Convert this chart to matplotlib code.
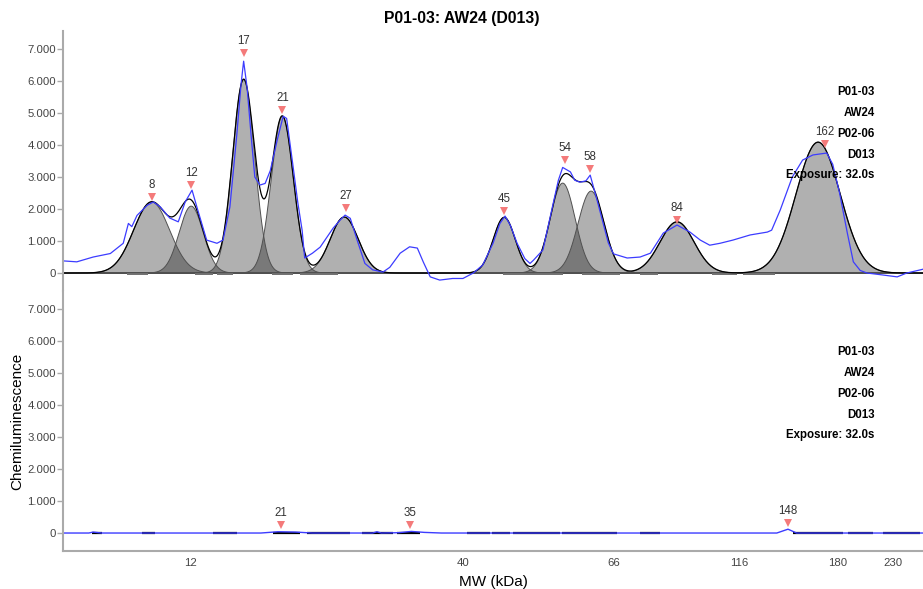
import numpy as np
import matplotlib.pyplot as plt
from matplotlib.ticker import FuncFormatter

plt.rcParams['font.family'] = ['Liberation Sans', 'DejaVu Sans']

# MW ladder: relative migration (lane fraction) of the marker bands
ladder_mw = [12, 40, 66, 116, 180, 230]
ladder_rf = [0.148, 0.465, 0.640, 0.786, 0.901, 0.965]

# raw lane profile, upper lane (rf, signal)
trace_rf = [0.000, 0.016, 0.035, 0.055, 0.070, 0.076, 0.080, 0.086, 0.098, 0.105,
            0.113, 0.124, 0.134, 0.142, 0.150, 0.156, 0.167, 0.179, 0.186, 0.194,
            0.202, 0.207, 0.210, 0.214, 0.219, 0.223, 0.229, 0.235, 0.241, 0.249,
            0.256, 0.260, 0.267, 0.273, 0.278, 0.281, 0.290, 0.299, 0.314, 0.322,
            0.328, 0.334, 0.342, 0.351, 0.360, 0.372, 0.380, 0.392, 0.403, 0.412,
            0.419, 0.427, 0.438, 0.453, 0.465, 0.477, 0.488, 0.500, 0.508, 0.514,
            0.520, 0.528, 0.537, 0.543, 0.547, 0.558, 0.570, 0.576, 0.581, 0.590,
            0.595, 0.601, 0.608, 0.613, 0.621, 0.628, 0.634, 0.640, 0.656, 0.671,
            0.683, 0.698, 0.714, 0.729, 0.741, 0.752, 0.764, 0.779, 0.799, 0.819,
            0.824, 0.834, 0.848, 0.860, 0.872, 0.880, 0.888, 0.895, 0.903, 0.912,
            0.919, 0.927, 0.935, 0.953, 0.970, 0.981, 0.997, 1.000]
trace_val = [380, 350, 500, 610, 930, 1550, 1450, 1800, 2120, 2220,
             2070, 1720, 1600, 2220, 2590, 2030, 1030, 930, 1030, 2060,
             4300, 5900, 6620, 5800, 4200, 3000, 2750, 2800, 3200, 4150,
             4900, 4830, 3430, 2200, 1340, 470, 620, 810, 1400, 1650,
             1810, 1710, 1030, 300, 100, 30, 180, 620, 820, 780,
             340, -120, -220, -170, -170, 0, 250, 930, 1550, 1780,
             1500, 930, 450, 300, 400, 720, 2180, 2900, 3300, 3160,
             2900, 2840, 2880, 3060, 2280, 1560, 950, 600, 470, 500,
             620, 1250, 1500, 1280, 1030, 870, 930, 1030, 1190, 1280,
             1340, 1970, 3000, 3530, 3690, 3720, 3750, 3400, 2500, 1250,
             350, 80, 0, -60, -120, 0, 100, 120]

# fitted bands, upper lane
band_rf = [0.103, 0.149, 0.210, 0.255, 0.327, 0.513, 0.581, 0.614, 0.714, 0.878]
band_height = [2220, 2090, 6050, 4900, 1750, 1740, 2810, 2560, 1600, 4090]
band_sigma = [0.0209, 0.0140, 0.0128, 0.0128, 0.0163, 0.0128, 0.0145, 0.0151, 0.0198, 0.0256]

# band labels (MW) and marker heights
peak_labels = ['8', '12', '17', '21', '27', '45', '54', '58', '84', '162']
peak_rf = [0.103, 0.149, 0.210, 0.255, 0.329, 0.513, 0.584, 0.613, 0.714, 0.886]
peak_mark = [2375, 2750, 6875, 5090, 2030, 1940, 3530, 3250, 1660, 4030]

# baseline segments under bands, upper lane
base_segs = [(0.074, 0.099), (0.153, 0.174), (0.179, 0.198), (0.243, 0.267),
             (0.276, 0.320), (0.512, 0.547), (0.547, 0.581), (0.603, 0.648),
             (0.671, 0.692), (0.755, 0.784), (0.791, 0.828)]

# lower lane
trace2_rf = [0.0, 0.030, 0.035, 0.045, 0.230, 0.250, 0.270, 0.290, 0.360, 0.365,
             0.370, 0.390, 0.405, 0.420, 0.440, 0.830, 0.843, 0.853, 1.0]
trace2_val = [0, 0, 30, 0, 0, 40, 30, 0, 0, 40,
              0, 10, 50, 20, 0, 0, 120, 0, 0]
peak2_labels = ['21', '35', '148']
peak2_rf = [0.253, 0.403, 0.843]
peak2_mark = [250, 250, 310]
base2_segs = [(0.034, 0.045), (0.092, 0.107), (0.174, 0.202), (0.244, 0.276),
              (0.284, 0.334), (0.348, 0.384), (0.388, 0.415), (0.470, 0.497),
              (0.499, 0.520), (0.523, 0.578), (0.580, 0.644), (0.671, 0.694),
              (0.849, 0.907), (0.913, 0.942), (0.953, 0.997)]

info_lines = ['P01-03', 'AW24', 'P02-06', 'D013', 'Exposure: 32.0s']

fig = plt.figure(figsize=(9.23, 5.89), dpi=100)
ax1 = fig.add_axes([0.0683, 0.5059, 0.9317, 0.4414])
ax2 = fig.add_axes([0.0683, 0.0645, 0.9317, 0.4414])

x = np.linspace(0, 1, 1500)
total = np.zeros_like(x)
for c, h, s in zip(band_rf, band_height, band_sigma):
    g = h * np.exp(-0.5 * ((x - c) / s) ** 2)
    total += g
    ax1.fill_between(x, 0, g, facecolor='black', alpha=0.31, linewidth=0)
    ax1.plot(x, g, color='#505050', lw=0.7)

for a, b in base_segs:
    ax1.plot([a, b], [-25, -25], color='#707070', lw=1.4, solid_capstyle='butt')

ax1.plot(x, total, color='black', lw=0.9)
ax1.plot(trace_rf, trace_val, color='#3c3cff', lw=0.9)

for a, b in base2_segs:
    ax2.plot([a, b], [0, 0], color='black', lw=1.6, solid_capstyle='butt')
ax2.plot(trace2_rf, trace2_val, color='#3c3cff', lw=1.0)


def mark_peaks(ax, rf, mark, labels):
    ax.plot(rf, mark, linestyle='none', marker='v', color='#f47a7a', markersize=5.5,
            markeredgewidth=0)
    for px, py, t in zip(rf, mark, labels):
        ax.annotate(t, (px, py), xytext=(0, 8.5), textcoords='offset points',
                    ha='center', va='center', fontsize=8.3, color='#333333')


mark_peaks(ax1, peak_rf, peak_mark, peak_labels)
mark_peaks(ax2, peak2_rf, peak2_mark, peak2_labels)

fmt = FuncFormatter(lambda v, p: f"{int(round(v)):,}".replace(',', '.'))
for ax in (ax1, ax2):
    ax.set_xlim(0, 1)
    ax.set_ylim(-562, 7562)
    ax.set_yticks(np.arange(0, 7001, 1000))
    ax.yaxis.set_major_formatter(fmt)
    ax.tick_params(axis='y', length=4, width=1, color='#aaaaaa', labelsize=8.2,
                   labelcolor='#444444', pad=1)
    for s in ('top', 'right'):
        ax.spines[s].set_visible(False)
    ax.spines['left'].set_color('#aaaaaa')
    ax.spines['left'].set_linewidth(1.5)
    for i, t in enumerate(info_lines):
        ax.text(0.944, 0.765 - i * 0.08, t, transform=ax.transAxes, ha='right',
                va='center', fontsize=8.3, fontweight='bold')

ax1.spines['bottom'].set_visible(False)
ax1.set_xticks([])
ax2.spines['bottom'].set_color('#aaaaaa')
ax2.spines['bottom'].set_linewidth(1.5)
ax2.set_xticks(ladder_rf)
ax2.set_xticklabels([str(m) for m in ladder_mw])
ax2.tick_params(axis='x', length=0, labelsize=8.2, labelcolor='#444444', pad=5)
ax2.set_xlabel('MW (kDa)', fontsize=11)
ax2.xaxis.set_label_coords(0.5, -0.092)
ax2.set_ylabel('Chemiluminescence', fontsize=11)
ax2.yaxis.set_label_coords(-0.045, 0.5)

fig.text(0.5, 0.969, 'P01-03: AW24 (D013)', ha='center', va='center',
         fontsize=11.3, fontweight='bold')

fig.savefig('out.png', dpi=100)
